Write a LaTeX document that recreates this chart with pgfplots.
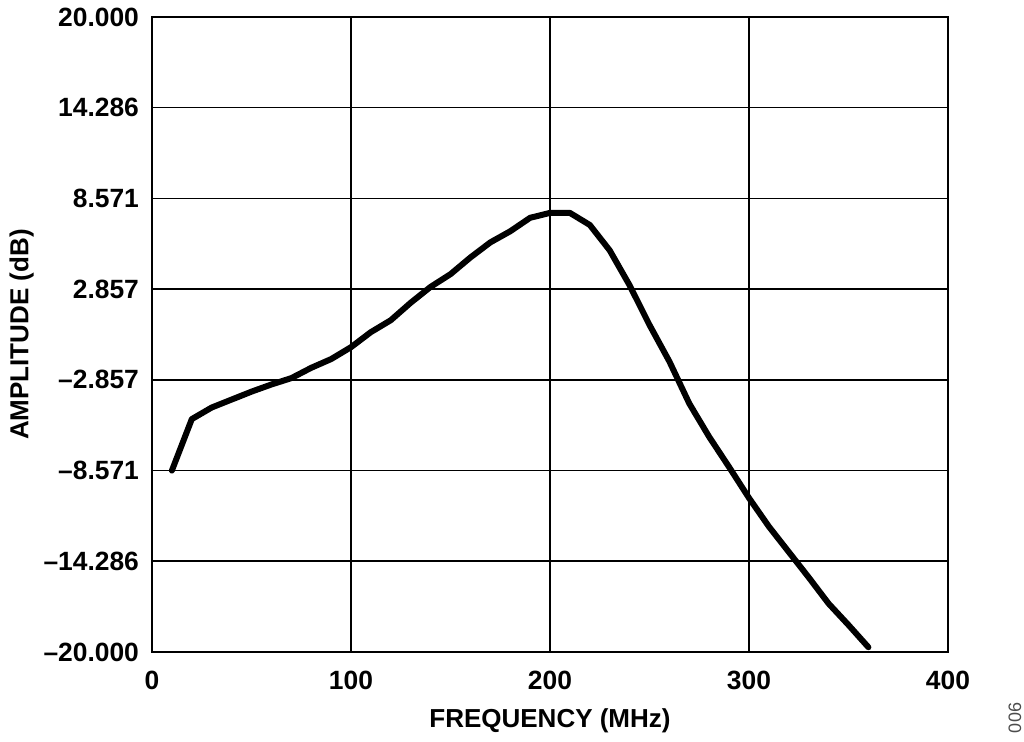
\documentclass[border=0pt]{standalone}
\usepackage{fontspec}
\setmainfont{Liberation Sans}
\usepackage{pgfplots}
\pgfplotsset{compat=1.18}
\begin{document}
\begin{tikzpicture}
\begin{axis}[
  scale only axis, width=398pt, height=317.5pt,
  xmin=0, xmax=400, ymin=-20, ymax=20,
  xtick={0,100,200,300,400},
  xticklabels={0,100,200,300,400},
  ytick={-20,-14.286,-8.571,-2.857,2.857,8.571,14.286,20},
  yticklabels={–20.000,–14.286,–8.571,–2.857,2.857,8.571,14.286,20.000},
  grid=major,
  major grid style={black, line width=0.8pt},
  axis line style={black, line width=1.4pt},
  major tick length=0pt,
  tick label style={font=\fontsize{13.2}{15}\selectfont\bfseries},
  yticklabel style={xshift=-3pt},
  xticklabel style={yshift=-6pt},
  xlabel={FREQUENCY (MHz)},
  ylabel={AMPLITUDE (dB)},
  label style={font=\fontsize{13}{15}\selectfont\bfseries, inner sep=0pt},
  xlabel style={at={(axis description cs:0.5,-0.0882)}, anchor=north},
  ylabel style={at={(axis description cs:-0.1796,0.5)}, anchor=north, rotate=0},
  clip=false,
]
\addplot[black, line width=3pt, line join=round, line cap=round] coordinates {
(10,-8.571) (20,-5.33) (30,-4.6) (40,-4.1) (50,-3.6) (60,-3.15) (70,-2.75)
(80,-2.1) (90,-1.55) (100,-0.8) (110,0.15) (120,0.9) (130,2.0) (140,3.0)
(150,3.8) (160,4.85) (170,5.8) (180,6.5) (190,7.35) (200,7.66) (210,7.66)
(220,6.9) (230,5.3) (240,3.1) (250,0.6) (260,-1.7) (270,-4.35) (280,-6.45)
(290,-8.35) (300,-10.3) (310,-12.1) (320,-13.7) (330,-15.3) (340,-16.95)
(350,-18.3) (360,-19.7)
};
\end{axis}
\node[rotate=90, font=\fontsize{9}{10}\selectfont, text=black!70] at ([xshift=33.5pt,yshift=-33pt]current axis.south east) {006};
\pgfresetboundingbox
\path[use as bounding box] ([xshift=-76pt,yshift=-45pt]current axis.south west) rectangle ([xshift=38pt,yshift=8.5pt]current axis.north east);
\end{tikzpicture}
\end{document}
